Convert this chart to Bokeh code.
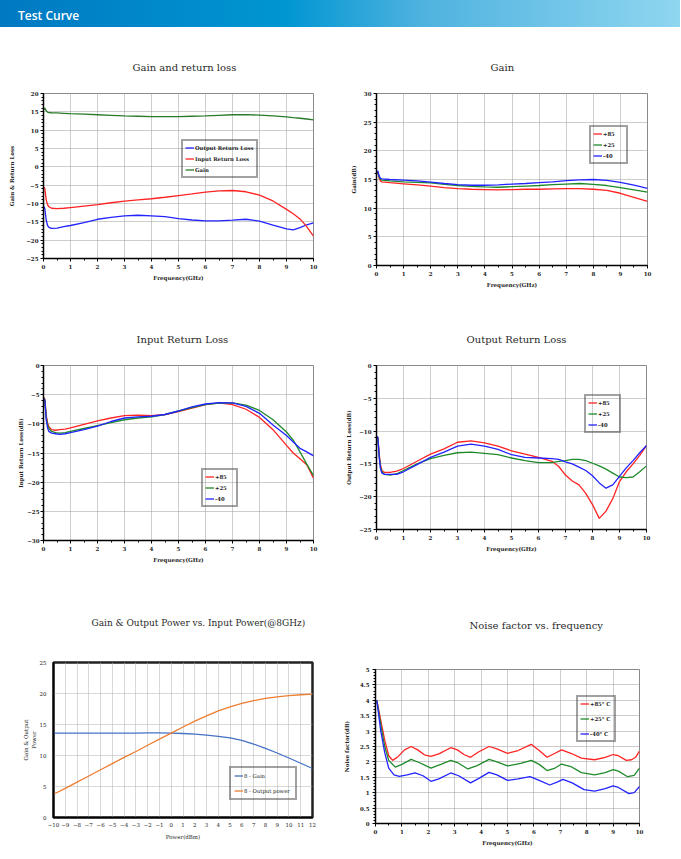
from bokeh.plotting import figure
from bokeh.models import Legend, LegendItem, FixedTicker, Range1d, Div, BoxAnnotation
from bokeh.layouts import column, row
from bokeh.embed import file_html
from bokeh.resources import INLINE

# ---------------- data ----------------
# Panel 1: Gain and return loss
f1 = [0.02, 0.05, 0.1, 0.15, 0.2, 0.3, 0.5, 0.75, 1, 1.5, 2, 2.5, 3, 3.5, 4, 4.5, 5, 5.5, 6,
      6.5, 7, 7.5, 8, 8.5, 9, 9.25, 9.5, 9.75, 10]
gain1 = [15.6, 16.0, 15.3, 14.9, 14.8, 14.75, 14.7, 14.6, 14.5, 14.35, 14.2, 14.05, 13.9, 13.8,
         13.7, 13.7, 13.7, 13.8, 13.9, 14.05, 14.2, 14.25, 14.1, 13.9, 13.6, 13.4, 13.25, 13.05, 12.8]
irl1 = [-5.5, -6.0, -9.0, -10.3, -10.9, -11.3, -11.4, -11.3, -11.1, -10.7, -10.3, -9.8, -9.35,
        -9.0, -8.7, -8.3, -7.85, -7.4, -6.9, -6.55, -6.45, -6.8, -7.7, -9.3, -11.6, -12.8, -14.2,
        -16.3, -18.9]
orl1 = [-10.8, -11.5, -14.5, -16.0, -16.5, -16.8, -16.7, -16.3, -16.0, -15.2, -14.3, -13.8,
        -13.35, -13.2, -13.35, -13.6, -14.1, -14.5, -14.75, -14.75, -14.55, -14.3, -14.8, -15.9,
        -16.9, -17.2, -16.6, -15.8, -15.3]

# Panel 2: Gain vs temperature
f2 = [0.02, 0.05, 0.1, 0.15, 0.2, 0.5, 1, 1.5, 2, 2.5, 3, 3.5, 4, 4.5, 5, 5.5, 6, 6.5, 7, 7.5,
      8, 8.5, 9, 9.5, 10]
g85 = [16.0, 16.2, 15.2, 14.7, 14.6, 14.45, 14.25, 14.05, 13.85, 13.6, 13.4, 13.3, 13.25, 13.2,
       13.25, 13.3, 13.3, 13.35, 13.4, 13.4, 13.3, 13.1, 12.6, 11.9, 11.2]
g25 = [16.2, 16.3, 15.4, 15.0, 14.9, 14.75, 14.6, 14.5, 14.4, 14.15, 13.95, 13.8, 13.7, 13.65,
       13.75, 13.85, 13.95, 14.1, 14.2, 14.3, 14.15, 13.95, 13.6, 13.2, 12.8]
gm40 = [16.3, 16.5, 15.6, 15.2, 15.1, 15.0, 14.9, 14.75, 14.55, 14.3, 14.1, 14.0, 14.0, 14.05,
        14.2, 14.3, 14.45, 14.6, 14.8, 14.95, 15.0, 14.85, 14.5, 14.0, 13.45]

# Panel 3: Input return loss vs temperature
f3 = [0.02, 0.05, 0.1, 0.15, 0.2, 0.3, 0.45, 0.6, 0.8, 1, 1.5, 2, 2.5, 3, 3.5, 4, 4.5, 5, 5.5,
      6, 6.5, 7, 7.5, 8, 8.5, 9, 9.25, 9.5, 9.75, 10]
i85 = [-5.5, -5.8, -8.5, -9.8, -10.5, -11.0, -11.1, -11.0, -10.9, -10.7, -10.1, -9.5, -9.0,
       -8.6, -8.5, -8.6, -8.4, -7.9, -7.3, -6.7, -6.4, -6.7, -7.5, -8.9, -11.0, -13.7, -15.0,
       -16.0, -17.0, -19.3]
i25 = [-5.6, -5.9, -8.8, -10.2, -10.8, -11.3, -11.5, -11.6, -11.5, -11.3, -10.8, -10.3, -9.8,
       -9.3, -9.0, -8.8, -8.4, -7.8, -7.2, -6.7, -6.45, -6.4, -6.8, -7.7, -9.3, -11.4, -12.8,
       -14.8, -16.9, -18.9]
im40 = [-5.7, -6.0, -9.3, -10.7, -11.3, -11.6, -11.7, -11.8, -11.7, -11.5, -11.0, -10.4, -9.6,
        -9.0, -8.8, -8.7, -8.4, -7.8, -7.1, -6.6, -6.35, -6.4, -7.0, -8.2, -10.2, -12.0, -13.1,
        -14.2, -14.8, -15.5]

# Panel 4: Output return loss vs temperature
f4 = [0.02, 0.05, 0.1, 0.15, 0.2, 0.3, 0.5, 0.75, 1, 1.5, 2, 2.5, 3, 3.5, 4, 4.5, 5, 5.5, 6,
      6.5, 6.75, 7, 7.25, 7.5, 7.75, 8, 8.25, 8.5, 8.75, 9, 9.25, 9.5, 9.75, 10]
o85 = [-10.8, -11.0, -13.5, -15.2, -16.0, -16.3, -16.3, -16.1, -15.7, -14.6, -13.5, -12.7,
       -11.7, -11.5, -11.8, -12.3, -13.0, -13.5, -14.0, -14.6, -15.4, -16.7, -17.6, -18.2,
       -19.5, -21.2, -23.3, -22.2, -20.3, -17.7, -16.2, -15.0, -13.7, -12.2]
o25 = [-10.8, -11.0, -13.8, -15.5, -16.2, -16.6, -16.7, -16.5, -16.0, -15.0, -14.2, -13.7,
       -13.3, -13.2, -13.4, -13.6, -14.1, -14.5, -14.8, -14.8, -14.6, -14.5, -14.3, -14.3,
       -14.5, -14.9, -15.3, -15.8, -16.4, -17.0, -17.1, -17.0, -16.2, -15.3]
om40 = [-10.8, -11.0, -14.0, -15.8, -16.4, -16.6, -16.6, -16.6, -16.2, -15.1, -14.0, -13.2,
        -12.3, -12.0, -12.3, -12.8, -13.6, -14.0, -14.1, -14.2, -14.3, -14.7, -15.0, -15.5,
        -16.0, -16.8, -17.9, -18.7, -18.2, -16.9, -15.6, -14.5, -13.3, -12.2]

# Panel 5: Gain & output power vs input power (@8GHz)
pin5 = [-10, -9, -8, -7, -6, -5, -4, -3, -2, -1, 0, 1, 2, 3, 4, 5, 6, 7, 8, 9, 10, 11, 12]
gain5 = [13.6, 13.6, 13.6, 13.6, 13.6, 13.6, 13.6, 13.6, 13.65, 13.65, 13.6, 13.55, 13.45,
         13.3, 13.1, 12.85, 12.45, 11.85, 11.15, 10.4, 9.6, 8.75, 7.9]
pout5 = [3.75, 4.7, 5.7, 6.7, 7.7, 8.7, 9.7, 10.65, 11.65, 12.65, 13.6, 14.6, 15.55, 16.4,
         17.2, 17.85, 18.4, 18.85, 19.2, 19.45, 19.65, 19.8, 19.9]

# Panel 6: Noise factor vs frequency
nf85_f = [0.05, 0.2, 0.35, 0.5, 0.65, 0.85, 1.1, 1.35, 1.6, 1.85, 2.1, 2.4, 2.85, 3.1, 3.35,
          3.6, 3.9, 4.3, 4.6, 5.0, 5.4, 5.9, 6.2, 6.5, 6.8, 7.05, 7.4, 7.8, 8.3, 8.7, 9.0, 9.2,
          9.5, 9.7, 9.85, 10.0]
nf85 = [4.0, 3.35, 2.7, 2.2, 2.05, 2.17, 2.39, 2.5, 2.39, 2.23, 2.18, 2.26, 2.46, 2.39, 2.24,
        2.15, 2.32, 2.5, 2.42, 2.28, 2.37, 2.57, 2.37, 2.15, 2.28, 2.39, 2.28, 2.12, 2.07, 2.15,
        2.24, 2.2, 2.05, 2.07, 2.15, 2.35]
nf25_f = [0.05, 0.2, 0.35, 0.5, 0.75, 1.0, 1.35, 1.65, 2.1, 2.5, 2.85, 3.1, 3.5, 3.85, 4.3,
          4.6, 5.0, 5.5, 5.9, 6.2, 6.5, 6.8, 7.05, 7.4, 7.8, 8.3, 8.7, 9.0, 9.2, 9.55, 9.8, 10.0]
nf25 = [4.0, 3.2, 2.5, 2.05, 1.83, 1.92, 2.08, 1.98, 1.8, 1.93, 2.05, 1.98, 1.77, 1.88, 2.08,
        2.0, 1.87, 1.95, 2.05, 1.92, 1.72, 1.8, 1.93, 1.85, 1.65, 1.58, 1.65, 1.75, 1.7, 1.52,
        1.56, 1.8]
nfm40_f = [0.05, 0.2, 0.35, 0.5, 0.7, 0.9, 1.2, 1.5, 1.8, 2.1, 2.4, 2.85, 3.15, 3.6, 3.95, 4.3,
           4.6, 5.0, 5.4, 5.85, 6.2, 6.6, 6.9, 7.1, 7.45, 7.9, 8.3, 8.7, 9.0, 9.2, 9.6, 9.8, 10.0]
nfm40 = [4.0, 3.0, 2.3, 1.8, 1.58, 1.53, 1.58, 1.64, 1.55, 1.37, 1.45, 1.64, 1.55, 1.32, 1.48,
         1.66, 1.58, 1.4, 1.45, 1.52, 1.4, 1.25, 1.35, 1.43, 1.32, 1.1, 1.05, 1.13, 1.22, 1.17,
         0.97, 1.0, 1.2]

# tick values
freq_ticks = [0, 1, 2, 3, 4, 5, 6, 7, 8, 9, 10]
freq_minor = [i * 0.5 for i in range(21)]
nf_ticks = [0, 0.5, 1, 1.5, 2, 2.5, 3, 3.5, 4, 4.5, 5]

RED = "#ff2323"
GREEN = "#1f8a2a"
BLUE = "#2323ff"
SERIF = "DejaVu Serif"


def make_fig(w, h, borders, title, tfont, toff, tstand, xr, yr, xt, xm, yt, ym, xlab, ylab,
             ylab_st=3, ytick_st=2, black_frame=False, bold=True):
    bl, br, bt, bb = borders
    p = figure(width=w, height=h, output_backend="svg", toolbar_location=None,
               x_range=Range1d(*xr), y_range=Range1d(*yr),
               min_border_left=bl, min_border_right=br, min_border_top=bt,
               min_border_bottom=bb)
    p.title.text = title
    p.title.text_font = SERIF
    p.title.text_font_size = tfont
    p.title.text_font_style = "normal"
    p.title.text_color = "#2a2a2a"
    p.title.align = "left"
    p.title.vertical_align = "bottom"
    p.title.offset = toff
    p.title.standoff = tstand
    p.xaxis.ticker = FixedTicker(ticks=xt, minor_ticks=xm)
    p.yaxis.ticker = FixedTicker(ticks=yt, minor_ticks=ym)
    p.xaxis.axis_label = xlab
    p.yaxis.axis_label = ylab
    for ax in (p.xaxis, p.yaxis):
        ax.axis_label_text_font = SERIF
        ax.axis_label_text_font_size = "5.5px"
        ax.axis_label_text_font_style = "bold" if bold else "normal"
        ax.axis_label_text_color = "#222222"
        ax.axis_label_standoff = 3
        ax.major_label_text_font = SERIF
        ax.major_label_text_font_size = "5.5px"
        ax.major_label_text_font_style = "bold" if bold else "normal"
        ax.major_label_text_color = "#222222"
        ax.major_label_standoff = 2
        ax.axis_line_color = "black"
        ax.axis_line_width = 1.5
        ax.major_tick_line_color = "black"
        ax.minor_tick_line_color = "black"
        ax.major_tick_in = 0
        ax.major_tick_out = 0 if black_frame else 3
        ax.minor_tick_in = 0
        ax.minor_tick_out = 2
    p.yaxis.axis_label_standoff = ylab_st
    p.yaxis.major_label_standoff = ytick_st
    p.grid.grid_line_color = "#9a9a9a"
    p.grid.grid_line_dash = "1 1"
    p.grid.grid_line_width = 1
    if black_frame:
        p.outline_line_color = "#222222"
        p.outline_line_width = 2.5
        p.grid.grid_line_color = "#b0b0b0"
        p.xaxis.major_label_standoff = 4
        p.xaxis.axis_label_standoff = 4
    else:
        p.outline_line_color = "#8a8a8a"
        p.outline_line_width = 1
    return p


def add_legend(p, items, loc, label_width, spacing=2, padding=2, bold=True):
    lg = Legend(items=items, location=loc, margin=0, padding=padding, spacing=spacing,
                glyph_width=9, glyph_height=9, label_standoff=1,
                label_text_font=SERIF, label_text_font_size="5.3px",
                label_text_font_style="bold" if bold else "normal",
                label_text_color="#222222", label_height=7, label_width=label_width,
                border_line_color="#444444", border_line_width=2,
                background_fill_alpha=0)
    p.add_layout(lg)
    return lg


LW, RW = 340, 340

# ---- Panel 1 ----
p1 = make_fig(LW, 278, (43, 27, 66, 47), "Gain and return loss", "10px", 89, 42,
              (0, 10), (-25, 20), freq_ticks, freq_minor,
              [-25, -20, -15, -10, -5, 0, 5, 10, 15, 20], list(range(-25, 21)),
              "Frequency(GHz)", "Gain & Return Loss", ylab_st=8)
r_orl = p1.line(f1, orl1, line_color=BLUE, line_width=1.3)
r_irl = p1.line(f1, irl1, line_color=RED, line_width=1.3)
r_gain = p1.line(f1, gain1, line_color="#2a7a2a", line_width=1.3)
add_legend(p1, [LegendItem(label="Output Return Loss", renderers=[r_orl]),
                LegendItem(label="Input Return Loss", renderers=[r_irl]),
                LegendItem(label="Gain", renderers=[r_gain])], (138, 80), 55)

# ---- Panel 2 ----
p2 = make_fig(RW, 278, (36, 33, 66, 40), "Gain", "10px", 114, 41,
              (0, 10), (0, 30), freq_ticks, freq_minor,
              [0, 5, 10, 15, 20, 25, 30], list(range(0, 31)),
              "Frequency(GHz)", "Gain(dB)", ylab_st=4)
a = p2.line(f2, g85, line_color=RED, line_width=1.3)
b = p2.line(f2, g25, line_color=GREEN, line_width=1.3)
c = p2.line(f2, gm40, line_color=BLUE, line_width=1.3)
add_legend(p2, [LegendItem(label="+85", renderers=[a]),
                LegendItem(label="+25", renderers=[b]),
                LegendItem(label="-40", renderers=[c])], (213, 101), 21)

# ---- Panel 3 ----
p3 = make_fig(LW, 271, (43, 27, 60, 36), "Input Return Loss", "10px", 93, 42,
              (0, 10), (-30, 0), freq_ticks, freq_minor,
              [-30, -25, -20, -15, -10, -5, 0], list(range(-30, 1)),
              "Frequency(GHz)", "Input Return Loss(dB)", ylab_st=0, ytick_st=1)
a = p3.line(f3, i85, line_color=RED, line_width=1.3)
b = p3.line(f3, i25, line_color=GREEN, line_width=1.3)
c = p3.line(f3, im40, line_color=BLUE, line_width=1.3)
add_legend(p3, [LegendItem(label="+85", renderers=[a]),
                LegendItem(label="+25", renderers=[b]),
                LegendItem(label="-40", renderers=[c])], (158, 33), 19)

# ---- Panel 4 ----
p4 = make_fig(RW, 271, (36, 34, 60, 47), "Output Return Loss", "10px", 90, 42,
              (0, 10), (-25, 0), freq_ticks, freq_minor,
              [-25, -20, -15, -10, -5, 0], list(range(-25, 1)),
              "Frequency(GHz)", "Output Return Loss(dB)", ylab_st=4)
a = p4.line(f4, o85, line_color=RED, line_width=1.3)
b = p4.line(f4, o25, line_color=GREEN, line_width=1.3)
c = p4.line(f4, om40, line_color=BLUE, line_width=1.3)
add_legend(p4, [LegendItem(label="+85", renderers=[a]),
                LegendItem(label="+25", renderers=[b]),
                LegendItem(label="-40", renderers=[c])], (208, 96), 19)

# ---- Panel 5 ----
p5 = make_fig(LW, 282, (53, 28, 86, 41), "Gain & Output Power vs.  Input Power(@8GHz)", "9px",
              38, 69, (-10, 12), (0, 25), pin5, [], [0, 5, 10, 15, 20, 25], [],
              "Power(dBm)", "Gain & Output\nPower", ylab_st=0, ytick_st=7,
              black_frame=True, bold=False)
a = p5.line(pin5, gain5, line_color="#4472c4", line_width=1.3)
b = p5.line(pin5, pout5, line_color="#ed7d31", line_width=1.3)
add_legend(p5, [LegendItem(label="8 - Gain", renderers=[a]),
                LegendItem(label="8 - Output power", renderers=[b])], (176, 17), 48,
           spacing=6, padding=3, bold=False)
# thin separator under the panel title (canvas units)
p5.add_layout(BoxAnnotation(left=17, right=322, top=60, bottom=61.5,
                            left_units="canvas", right_units="canvas",
                            top_units="canvas", bottom_units="canvas",
                            fill_color="#dcdcdc", fill_alpha=1, line_alpha=0,
                            level="overlay"))

# ---- Panel 6 ----
p6 = make_fig(RW, 282, (31, 41, 93, 35), "Noise factor vs. frequency", "10px", 94, 78,
              (0, 10), (0, 5), freq_ticks, freq_minor, nf_ticks,
              [i * 0.1 for i in range(51)], "Frequency(GHz)", "Noise factor(dB)",
              ylab_st=7, ytick_st=3)
p6.yaxis.major_label_overrides = {t: f"{t:g}" for t in nf_ticks}
a = p6.line(nf85_f, nf85, line_color=RED, line_width=1.3)
b = p6.line(nf25_f, nf25, line_color=GREEN, line_width=1.3)
c = p6.line(nfm40_f, nfm40, line_color=BLUE, line_width=1.3)
add_legend(p6, [LegendItem(label="+85° C", renderers=[a]),
                LegendItem(label="+25° C", renderers=[b]),
                LegendItem(label="-40° C", renderers=[c])], (201, 81), 22, spacing=6)

banner = Div(text="Test Curve", width=680, height=27, margin=0,
             styles={"background": "linear-gradient(90deg, #0079c2 0%, #0096d2 42%, #4fb2df 62%, #8fd6f0 100%)",
                     "color": "white", "font-family": "Open Sans", "font-weight": "600",
                     "font-size": "12px", "line-height": "25px", "padding-left": "18px",
                     "padding-top": "3px", "box-sizing": "border-box"})

layout = column(banner,
                row(column(p1), column(p2)),
                row(column(p3), column(p4)),
                row(column(p5), column(p6)), spacing=0)

with open("out.html", "w") as fh:
    fh.write(file_html(layout, INLINE))
